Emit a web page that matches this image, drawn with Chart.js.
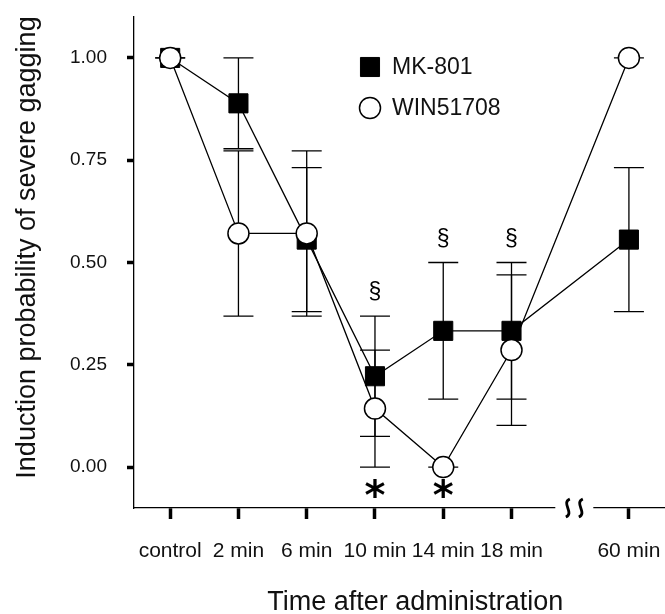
<!DOCTYPE html>
<html>
<head>
<meta charset="utf-8">
<script src="https://cdn.jsdelivr.net/npm/chart.js@4.4.0/dist/chart.umd.min.js"></script>
<style>
  html, body { margin: 0; padding: 0; background: #fff; overflow: hidden; }
  #wrap { width: 711px; height: 614px; }
</style>
</head>
<body>
<div id="wrap"><canvas id="chart"></canvas></div>
<script>
const categories = ["control", "2 min", "6 min", "10 min", "14 min", "18 min", "60 min"];
const mk801 = [1.0, 0.889, 0.556, 0.222, 0.333, 0.333, 0.556];
const mk801Err = [0, 0.111, 0.176, 0.147, 0.167, 0.167, 0.176];
const win51708 = [1.0, 0.571, 0.571, 0.143, 0.0, 0.286, 1.0];
const win51708Err = [0, 0.202, 0.202, 0.143, 0, 0.184, 0];
const sectionMarks = ["", "", "", "§", "§", "§", ""];
const starMarks = ["", "", "", "*", "*", "", ""];
const yTicks = [0, 0.25, 0.5, 0.75, 1.0];
const yTitle = "Induction probability of severe gagging";
const xTitle = "Time after administration";

// the axis is broken between 18 min and 60 min, so the last slot sits further right
const breakGap = 1.72;
const breakAt = 5.92;
const xSlot = categories.map((c, i) => (i < categories.length - 1 ? i : i - 1 + breakGap));

const FONT = "'Liberation Sans', Arial, sans-serif";
Chart.defaults.font.family = FONT;
Chart.defaults.color = "#111";

const toPoints = (vals) => vals.map((v, i) => ({ x: xSlot[i], y: v }));

// tick padding would otherwise be added around the plot area
const noScalePadding = (scale) => {
  scale.paddingTop = 0;
  scale.paddingBottom = 0;
  scale.paddingLeft = 0;
  scale.paddingRight = 0;
};

const errorBars = {
  id: "errorBars",
  beforeDatasetsDraw(chart) {
    const { ctx, scales: { x, y } } = chart;
    ctx.save();
    ctx.strokeStyle = "#000";
    ctx.lineWidth = 1.3;
    chart.data.datasets.forEach((ds) => {
      ds.data.forEach((pt, i) => {
        const e = ds.errors[i];
        const px = x.getPixelForValue(pt.x);
        const top = y.getPixelForValue(pt.y + e);
        const bot = y.getPixelForValue(pt.y - e);
        ctx.beginPath();
        ctx.moveTo(px, top);
        ctx.lineTo(px, bot);
        ctx.moveTo(px - 15, top);
        ctx.lineTo(px + 15, top);
        ctx.moveTo(px - 15, bot);
        ctx.lineTo(px + 15, bot);
        ctx.stroke();
      });
    });
    ctx.restore();
  },
};

const sigMarks = {
  id: "sigMarks",
  afterDatasetsDraw(chart) {
    const { ctx, scales: { x, y } } = chart;
    const sets = chart.data.datasets;
    ctx.save();
    ctx.fillStyle = "#000";
    ctx.textAlign = "center";
    ctx.textBaseline = "middle";
    categories.forEach((c, i) => {
      const px = x.getPixelForValue(xSlot[i]);
      if (sectionMarks[i]) {
        const hi = Math.max(...sets.map((ds) => ds.data[i].y + ds.errors[i]));
        ctx.font = "23px " + FONT;
        ctx.fillText(sectionMarks[i], px, y.getPixelForValue(hi) - 23);
      }
      if (starMarks[i]) {
        const lo = Math.min(...sets.map((ds) => ds.data[i].y - ds.errors[i]));
        ctx.font = "bold 40px 'DejaVu Sans'";
        ctx.fillText(starMarks[i], px, y.getPixelForValue(lo) + 32);
      }
    });
    ctx.restore();
  },
};

const axisBreak = {
  id: "axisBreak",
  afterDraw(chart) {
    const { ctx, scales: { x }, chartArea } = chart;
    const cx = x.getPixelForValue(breakAt);
    const yb = chartArea.bottom;
    ctx.save();
    ctx.fillStyle = "#fff";
    ctx.fillRect(cx - 19, yb - 3, 38, 6);
    ctx.strokeStyle = "#000";
    ctx.lineWidth = 2.8;
    [-6.5, 6.5].forEach((dx) => {
      const sx = cx + dx;
      ctx.beginPath();
      ctx.moveTo(sx + 2, yb - 9);
      ctx.bezierCurveTo(sx - 7, yb - 5, sx + 7, yb + 5, sx - 2, yb + 9);
      ctx.stroke();
    });
    ctx.restore();
  },
};

const innerLegend = {
  id: "innerLegend",
  afterDraw(chart) {
    const { ctx, chartArea } = chart;
    const lx = chartArea.left + 236;
    const ly = chartArea.top + 50;
    ctx.save();
    ctx.font = "23px " + FONT;
    ctx.textAlign = "left";
    ctx.textBaseline = "middle";
    chart.data.datasets.forEach((ds, k) => {
      const yy = ly + k * 41;
      ctx.fillStyle = ds.pointBackgroundColor;
      ctx.strokeStyle = "#000";
      ctx.lineWidth = ds.pointBorderWidth;
      Chart.helpers.drawPoint(ctx, {
        pointStyle: ds.pointStyle,
        radius: ds.pointRadius,
        rotation: 0,
        borderWidth: ds.pointBorderWidth,
      }, lx, yy);
      ctx.fillStyle = "#111";
      ctx.fillText(ds.label, lx + 22, yy + 1);
    });
    ctx.restore();
  },
};

// y title sits a little above the middle of the axis in the original figure
const yAxisTitle = {
  id: "yAxisTitle",
  afterDraw(chart) {
    const { ctx, chartArea } = chart;
    ctx.save();
    ctx.translate(28, (chartArea.top + chartArea.bottom) / 2 - 15);
    ctx.rotate(-Math.PI / 2);
    ctx.font = "27px " + FONT;
    ctx.fillStyle = "#111";
    ctx.textAlign = "center";
    ctx.textBaseline = "middle";
    ctx.fillText(yTitle, 0, 0);
    ctx.restore();
  },
};

new Chart(document.getElementById("chart"), {
  type: "line",
  data: {
    datasets: [
      {
        label: "MK-801",
        data: toPoints(mk801),
        errors: mk801Err,
        borderColor: "#000",
        borderWidth: 1.3,
        pointStyle: "rect",
        pointRadius: 13.5,
        pointBackgroundColor: "#000",
        pointBorderColor: "#000",
        pointBorderWidth: 1,
        order: 1,
      },
      {
        label: "WIN51708",
        data: toPoints(win51708),
        errors: win51708Err,
        borderColor: "#000",
        borderWidth: 1.3,
        pointStyle: "circle",
        pointRadius: 10.5,
        pointBackgroundColor: "#fff",
        pointBorderColor: "#000",
        pointBorderWidth: 1.5,
        order: 0,
      },
    ],
  },
  options: {
    responsive: true,
    maintainAspectRatio: false,
    devicePixelRatio: 1,
    animation: false,
    layout: { padding: { top: 17, left: 0, right: 0, bottom: 0 } },
    plugins: {
      legend: { display: false },
      tooltip: { enabled: false },
    },
    scales: {
      x: {
        type: "linear",
        min: -0.53,
        max: 7.71,
        afterBuildTicks: (scale) => {
          scale.ticks = xSlot.map((v) => ({ value: v }));
        },
        afterFit: (scale) => {
          scale.height = 106;
          noScalePadding(scale);
        },
        ticks: {
          autoSkip: false,
          maxRotation: 0,
          padding: 20,
          font: { size: 21 },
          callback: (v) => categories[xSlot.indexOf(v)],
        },
        grid: {
          drawOnChartArea: false,
          tickLength: 11,
          tickWidth: 3.5,
          tickColor: "#000",
        },
        border: { display: true, color: "#000", width: 1.3 },
        title: {
          display: true,
          text: xTitle,
          font: { size: 27, lineHeight: 1 },
          color: "#111",
          padding: { top: 0, bottom: -2 },
        },
      },
      y: {
        min: -0.1,
        max: 1.1,
        afterBuildTicks: (scale) => {
          scale.ticks = yTicks.map((v) => ({ value: v }));
        },
        afterFit: (scale) => {
          scale.width = 134;
          noScalePadding(scale);
        },
        ticks: {
          padding: 20,
          font: { size: 19 },
          callback: (v) => v.toFixed(2),
        },
        grid: {
          drawOnChartArea: false,
          tickLength: 7,
          tickWidth: 3.5,
          tickColor: "#000",
        },
        border: { display: true, color: "#000", width: 1.3 },
        title: { display: false },
      },
    },
  },
  plugins: [errorBars, sigMarks, axisBreak, innerLegend, yAxisTitle],
});
</script>
</body>
</html>
